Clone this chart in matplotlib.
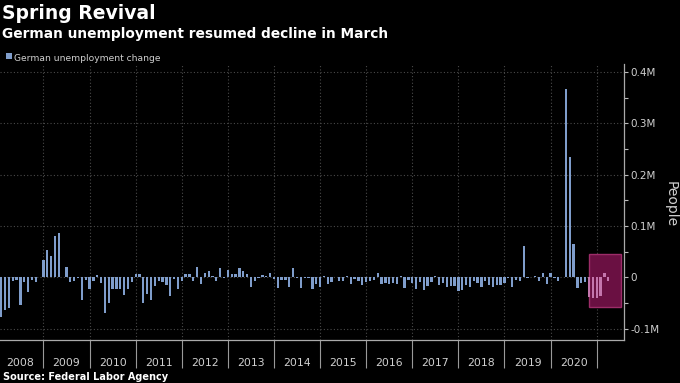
###############################################################################
# Import packages

import numpy as np
import matplotlib
matplotlib.use("Agg")
import matplotlib.pyplot as plt
from matplotlib.patches import Rectangle

###############################################################################
# Data: monthly change in German unemployment (thousands), Jan 2008 - Mar 2021

chg_2008 = [-77, -64, -60, -8, -6, -54, -10, -28, -5, -10, 1, 34]
chg_2009 = [53, 42, 80, 86, 1, 20, -10, -7, -2, -44, -6, -22]
chg_2010 = [-8, 4, -11, -69, -51, -22, -22, -22, -34, -22, -10, 6]
chg_2011 = [6, -51, -32, -44, -16, -8, -10, -15, -36, -3, -22, -8]
chg_2012 = [6.5, 6.5, -8, 19.5, -14, 8, 12, 3, -8, 17.5, -1, 14]
chg_2013 = [6, 6, 17.5, 12, 6.5, -18, -8, -1, 5, 3, 8, -4]
chg_2014 = [-20, -4.5, -6, -18, 19, -1, -21, -2, -1, -23, -14, -18]
chg_2015 = [3, -14, -10, 1, -8, -8, 3, -13, -4, -8, -15, -9]
chg_2016 = [-8, -6, 8, -14, -12, -14, -12, -14, 3, -20, -6, -12]
chg_2017 = [-22, -10, -24, -16, -9, 3, -15, -12, -19, -17, -17, -26]
chg_2018 = [-25, -15, -18, -8, -12, -18, -8, -15, -19, -15, -15, -12]
chg_2019 = [-2, -19, -6, -8, 61, -1, 1, 3, -8, 8, -13, 9]
chg_2020 = [-2, -8, 1, 368, 234, 65, -21, -12, -10, -38, -40, -40]
chg_2021 = [-36, 9, -8]

years = list(range(2008, 2021))
y_ticks = [-0.1, 0, 0.1, 0.2, 0.3, 0.4]
y_labels = ["-0.1M", "0", "0.1M", "0.2M", "0.3M", "0.4M"]

changes = (chg_2008 + chg_2009 + chg_2010 + chg_2011 + chg_2012 + chg_2013
           + chg_2014 + chg_2015 + chg_2016 + chg_2017 + chg_2018 + chg_2019
           + chg_2020 + chg_2021)
values = np.array(changes) / 1000.0          # in millions
months = np.arange(len(values))               # month index from Jan 2008

###############################################################################
# Plot the data

bar_color = "#7f9dcb"
hi_bar_color = "#c476ad"
text_color = "#d0d0d0"
grid_color = "#4a4a4a"

# months from Oct 2020 on sit inside the highlight box
hi_start = 12 * (2020 - 2008) + 9
colors = [hi_bar_color if m >= hi_start else bar_color for m in months]

fig = plt.figure(figsize=(6.8, 3.83), dpi=100, facecolor="black")
ax = fig.add_axes([0.0, 0.1123, 0.9176, 0.7206], facecolor="black")

ax.bar(months, values, width=0.6, color=colors, zorder=2)

ax.set_xlim(-0.31, 162.1)
ax.set_ylim(-0.1222, 0.4158)

# right hand y axis
ax.yaxis.tick_right()
ax.yaxis.set_label_position("right")
ax.set_yticks(y_ticks)
ax.set_yticklabels(y_labels)
ax.set_yticks(np.arange(-0.1, 0.41, 0.05), minor=True)
ax.tick_params(axis="y", which="both", colors="#bbbbbb", labelcolor=text_color,
               length=3, width=0.8, pad=1.5, labelsize=7.5)

# year boundaries (data is dated at month end) and year labels in between
boundaries = [12 * (y - 2008) - 1 for y in years[1:]] + [12 * (2021 - 2008) - 1]
centers = [12 * (y - 2008) + 5 for y in years]
ax.set_xticks(boundaries)
ax.set_xticklabels([])
ax.set_xticks(centers, minor=True)
ax.set_xticklabels([str(y) for y in years], minor=True)
ax.tick_params(axis="x", which="major", colors="#999999", length=20, width=0.8)
ax.tick_params(axis="x", which="minor", length=0, pad=13,
               labelcolor=text_color, labelsize=7.8)

ax.grid(axis="both", which="major", linestyle=(0, (1, 2)), color=grid_color,
        linewidth=0.8, zorder=0)
ax.set_axisbelow(True)

for side in ["top", "left"]:
    ax.spines[side].set_visible(False)
for side in ["bottom", "right"]:
    ax.spines[side].set_color("#aaaaaa")
    ax.spines[side].set_linewidth(0.9)

# highlight box over the latest months (drawn behind the bars)
ax.add_patch(Rectangle((153.1, -0.0585), 8.1, 0.1039,
                       facecolor="#6a1042", edgecolor="#9c2c68",
                       linewidth=1.0, zorder=1.5))

###############################################################################
# Titles, legend, labels

fig.text(2 / 680, 1 - 19 / 383, "Spring Revival", color="white",
         fontsize=13.5, fontweight="bold", va="baseline", ha="left")
fig.text(2 / 680, 1 - 37.7 / 383, "German unemployment resumed decline in March",
         color="white", fontsize=9.9, fontweight="bold", va="baseline", ha="left")

fig.patches.append(Rectangle((5.7 / 680, 1 - 59.3 / 383), 6 / 680, 6 / 383,
                             transform=fig.transFigure, facecolor=bar_color,
                             edgecolor="none"))
fig.text(14 / 680, 1 - 60.7 / 383, "German unemployment change", color=text_color,
         fontsize=6.6, va="baseline", ha="left")

fig.text(671 / 680, 1 - 204 / 383, "People", color=text_color, fontsize=10,
         rotation=270, va="center", ha="center")

fig.text(3 / 680, 1 - 380 / 383, "Source: Federal Labor Agency", color="white",
         fontsize=7, fontweight="bold", va="baseline", ha="left")

fig.savefig("out.png", dpi=100, facecolor="black")
